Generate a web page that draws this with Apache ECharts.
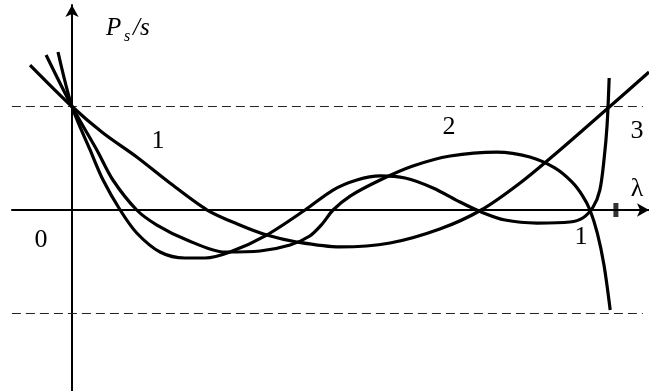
<!DOCTYPE html>
<html>
<head>
<meta charset="utf-8">
<script src="https://cdn.jsdelivr.net/npm/echarts@6/dist/echarts.min.js"></script>
<style>
  html, body { margin: 0; padding: 0; background: #fff; }
  #chart { width: 649px; height: 391px; }
</style>
</head>
<body>
<div id="chart"></div>
<script>
// curve "1" - the wide smooth one
const lambdaA = [-0.081, 0, 0.060, 0.125, 0.189, 0.261, 0.324, 0.376, 0.434, 0.517, 0.614, 0.710, 0.790, 0.865, 0.942, 1.035, 1.114]
const valueA = [1.401, 1.0, 0.744, 0.512, 0.261, 0, -0.145, -0.242, -0.309, -0.357, -0.319, -0.184, 0, 0.261, 0.580, 0.986, 1.333]

// curve "2" - big hump, then drops down past 1
const lambdaB = [-0.050, 0, 0.048, 0.079, 0.125, 0.164, 0.222, 0.295, 0.363, 0.421, 0.459, 0.483, 0.504, 0.537, 0.595, 0.658, 0.730, 0.820, 0.884, 0.932, 0.965, 0.986, 1.0, 1.014, 1.027, 1.039]
const valueB = [1.498, 1.0, 0.580, 0.290, 0, -0.145, -0.290, -0.406, -0.396, -0.338, -0.251, -0.135, 0, 0.135, 0.290, 0.425, 0.522, 0.560, 0.512, 0.406, 0.271, 0.135, 0, -0.222, -0.531, -0.966]

// curve "3" - wavy, shoots up near 1
const lambdaC = [-0.027, 0, 0.035, 0.060, 0.093, 0.125, 0.170, 0.218, 0.257, 0.305, 0.376, 0.450, 0.504, 0.550, 0.595, 0.643, 0.697, 0.749, 0.790, 0.836, 0.898, 0.961, 0.986, 1.006, 1.019, 1.027, 1.033, 1.037]
const valueC = [1.527, 1.0, 0.580, 0.290, 0, -0.222, -0.406, -0.464, -0.464, -0.406, -0.242, 0, 0.193, 0.290, 0.329, 0.309, 0.213, 0.077, -0.019, -0.097, -0.126, -0.116, -0.077, 0.029, 0.193, 0.483, 0.821, 1.275]

// dashed levels at +1 and -1
const levelValues = [1, -1]
const levelRange = [-0.116, 1.102]

// tick on the lambda axis
const tickLambda = [1.050]

const toPairs = (xs, ys) => xs.map((x, i) => [x, ys[i]])

const chart = echarts.init(document.getElementById('chart'))

const curveStyle = {
  type: 'line',
  smooth: 0.3,
  showSymbol: false,
  clip: false,
  silent: true,
  lineStyle: { color: '#000', width: 3.2 },
  z: 5
}

const levelSeries = levelValues.map(v => ({
  type: 'line',
  showSymbol: false,
  silent: true,
  data: levelRange.map(x => [x, v]),
  lineStyle: { color: '#222', width: 1, type: [9, 5] },
  z: 1
}))

const serif = 'Liberation Serif'
const text = (str, x, y, size, opts) => ({
  type: 'text', x: x, y: y,
  style: Object.assign({
    text: str, fontFamily: serif, fontSize: size, fill: '#000',
    align: 'center', verticalAlign: 'middle'
  }, opts || {})
})

const option = {
  animation: false,
  backgroundColor: '#fff',
  grid: { left: 12, right: 0, top: 5, bottom: 0 },
  xAxis: {
    type: 'value',
    min: -0.1158,
    max: 1.1139,
    axisLine: {
      onZero: true,
      symbol: ['none', 'arrow'],
      symbolSize: [10, 12],
      lineStyle: { color: '#000', width: 2 }
    },
    axisTick: { show: false },
    axisLabel: { show: false },
    splitLine: { show: false }
  },
  yAxis: {
    type: 'value',
    min: -1.749,
    max: 1.981,
    axisLine: {
      onZero: true,
      symbol: ['none', 'arrow'],
      symbolSize: [10, 12],
      lineStyle: { color: '#000', width: 2 }
    },
    axisTick: { show: false },
    axisLabel: { show: false },
    splitLine: { show: false }
  },
  series: [
    ...levelSeries,
    Object.assign({}, curveStyle, { data: toPairs(lambdaA, valueA) }),
    Object.assign({}, curveStyle, { data: toPairs(lambdaB, valueB) }),
    Object.assign({}, curveStyle, { data: toPairs(lambdaC, valueC) }),
    {
      type: 'scatter',
      silent: true,
      symbol: 'rect',
      symbolSize: [5, 14],
      itemStyle: { color: '#000' },
      data: tickLambda.map(x => [x, 0]),
      z: 6
    }
  ],
  graphic: [
    // axis title P_s/s
    text('P', 106, 28, 25, { align: 'left', fontStyle: 'italic' }),
    text('s', 124, 37, 16, { align: 'left', fontStyle: 'italic' }),
    text('/s', 133, 28, 25, { align: 'left', fontStyle: 'italic' }),
    text('λ', 637, 189, 26),
    // curve and point labels
    text('0', 41, 240, 26),
    text('1', 158, 141, 26),
    text('2', 449, 127, 26),
    text('3', 637, 131, 26),
    text('1', 581, 237, 26)
  ]
}

chart.setOption(option)
</script>
</body>
</html>
